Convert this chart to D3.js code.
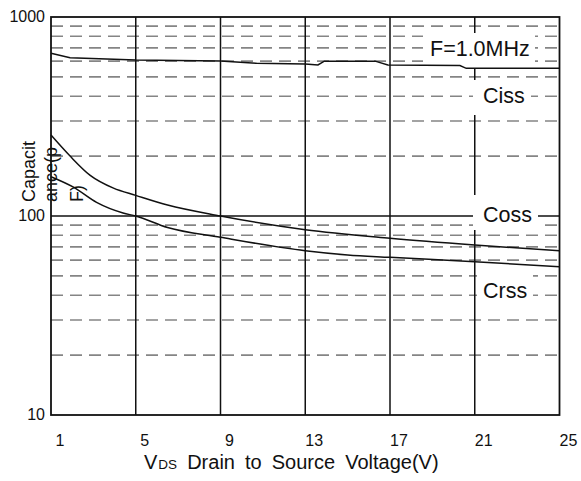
<!DOCTYPE html>
<html>
<head>
<meta charset="utf-8">
<script src="https://cdn.jsdelivr.net/npm/d3@7"></script>
<style>
  html, body { margin: 0; padding: 0; background: #fff; }
  svg { display: block; font-family: Arial, "Liberation Sans", sans-serif; }
</style>
</head>
<body>
<svg id="chart" width="581" height="481"></svg>
<script>
// Gate-charge capacitances versus drain-source voltage (f = 1.0 MHz)
const xTickValues = [1, 5, 9, 13, 17, 21, 25];
const yTickValues = [10, 100, 1000];
const yTickLabels = ["10", "100", "1000"];

const cissV = [1, 1.9, 5, 9, 10.7, 13, 13.6, 13.9, 16.3, 16.9, 20.3, 20.6, 25];
const cissC = [657, 624, 608, 601, 585, 580, 574, 600, 600, 574, 570, 552, 552];

const cossV = [1, 1.9, 2.85, 3.95, 5, 6.5, 9, 13, 17, 21, 25];
const cossC = [255, 200, 160, 138, 127, 113.5, 100, 85.3, 77.3, 71.5, 66.9];

const crssV = [1, 2.04, 3.15, 4.4, 5, 6.5, 9, 13, 15, 17, 21, 25];
const crssC = [157.6, 140, 117, 103.5, 100, 87.5, 78.2, 66.9, 63.7, 62, 58.9, 55.6];

const seriesNames = ["Ciss", "Coss", "Crss"];
const annotation = "F=1.0MHz";

(function draw() {
  const svg = d3.select("#chart");
  const pl = 51, pr = 559.5, pt = 17, pb = 415;

  const x = d3.scaleLinear().domain([1, 25]).range([pl, pr]);
  const y = d3.scaleLog().domain([10, 1000]).range([pb, pt]);

  // dashed minor grid (2..9 of each decade)
  const minor = y.ticks().filter(v => !yTickValues.includes(v));
  svg.append("g").selectAll("line").data(minor).join("line")
    .attr("x1", pl).attr("x2", pr)
    .attr("y1", d => y(d)).attr("y2", d => y(d))
    .attr("stroke", "#858585").attr("stroke-width", 1.6)
    .attr("stroke-dasharray", "12,7");

  // solid vertical grid
  svg.append("g").selectAll("line").data(xTickValues.slice(1, -1)).join("line")
    .attr("x1", d => x(d)).attr("x2", d => x(d))
    .attr("y1", pt).attr("y2", pb)
    .attr("stroke", "#111").attr("stroke-width", 1.5);

  // solid decade line
  svg.append("g").selectAll("line").data(yTickValues.slice(1, -1)).join("line")
    .attr("x1", pl).attr("x2", pr)
    .attr("y1", d => y(d)).attr("y2", d => y(d))
    .attr("stroke", "#111").attr("stroke-width", 1.5);

  // frame
  svg.append("rect")
    .attr("x", pl).attr("y", pt)
    .attr("width", pr - pl).attr("height", pb - pt)
    .attr("fill", "none").attr("stroke", "#111").attr("stroke-width", 1.8);

  // series label boxes (white background covers the grid)
  const labels = [
    { text: annotation, x: 430, base: 56, box: [423, 33, 112, 35] },
    { text: seriesNames[0], x: 483, base: 103, box: [473, 80, 58, 35] },
    { text: seriesNames[1], x: 483, base: 221.5, box: [473, 195, 65, 35] },
    { text: seriesNames[2], x: 483, base: 297.5, box: [477, 268, 56, 37] }
  ];
  svg.append("g").selectAll("rect").data(labels).join("rect")
    .attr("x", d => d.box[0]).attr("y", d => d.box[1])
    .attr("width", d => d.box[2]).attr("height", d => d.box[3])
    .attr("fill", "#fff");

  // curves
  const line = d3.line().x(d => x(d[0])).y(d => y(d[1]));
  const ciss = d3.zip(cissV, cissC);
  const coss = d3.zip(cossV, cossC);
  const crss = d3.zip(crssV, crssC);

  svg.append("path").datum(ciss)
    .attr("d", line.curve(d3.curveLinear))
    .attr("fill", "none").attr("stroke", "#111").attr("stroke-width", 1.5);
  svg.append("path").datum(coss)
    .attr("d", line.curve(d3.curveMonotoneX))
    .attr("fill", "none").attr("stroke", "#111").attr("stroke-width", 1.5);
  svg.append("path").datum(crss)
    .attr("d", line.curve(d3.curveMonotoneX))
    .attr("fill", "none").attr("stroke", "#111").attr("stroke-width", 1.5);

  svg.append("g").selectAll("text").data(labels).join("text")
    .attr("x", d => d.x).attr("y", d => d.base)
    .attr("font-size", 21.5).attr("fill", "#111")
    .text(d => d.text);

  // y tick labels
  svg.append("g").selectAll("text").data(yTickValues).join("text")
    .attr("x", 45).attr("y", d => y(d) + 4.5)
    .attr("text-anchor", "end").attr("font-size", 16).attr("fill", "#111")
    .text((d, i) => yTickLabels[i]);

  // x tick labels
  svg.append("g").selectAll("text").data(xTickValues).join("text")
    .attr("x", d => x(d) + 9).attr("y", 446)
    .attr("text-anchor", "middle").attr("font-size", 16).attr("fill", "#111")
    .text(d => d);

  // x axis title
  const xt = svg.append("text")
    .attr("x", 144).attr("y", 468.5)
    .attr("font-size", 20).attr("fill", "#111")
    .attr("word-spacing", 4.5);
  xt.append("tspan").text("V");
  xt.append("tspan").attr("font-size", 13.5).attr("dx", 1).text("DS");
  xt.append("tspan").text(" Drain to Source Voltage(V)");

  // y axis title, broken over three rotated lines
  const yt = svg.append("text")
    .attr("transform", "rotate(-90)")
    .attr("font-size", 18).attr("fill", "#111");
  yt.append("tspan").attr("x", -202).attr("y", 35).text("Capacit");
  yt.append("tspan").attr("x", -202).attr("y", 57).text("ance(p");
  yt.append("tspan").attr("x", -202).attr("y", 83).text("F)");
})();
</script>
</body>
</html>
